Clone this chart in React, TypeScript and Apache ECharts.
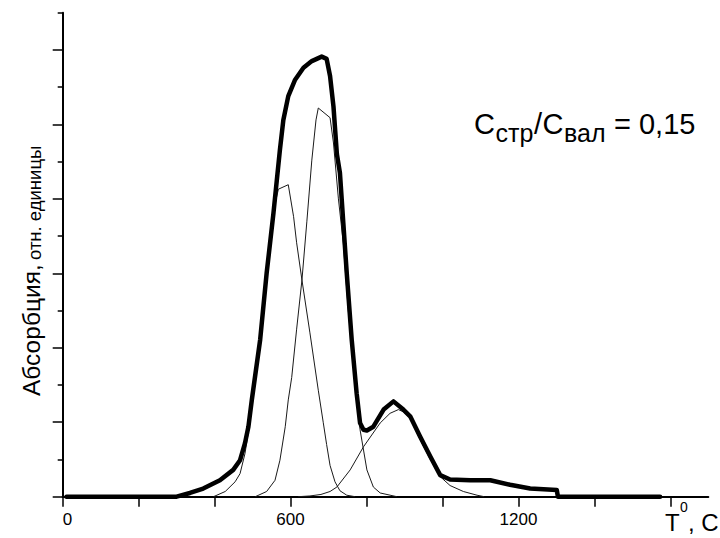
import React, { useEffect, useRef } from "react";
import * as echarts from "echarts";

// Temperature (T, °C) vs absorption (relative units)
const totalCurve: number[][] = [
  [10, 0], [300, 0], [335, 0.05], [370, 0.11], [414, 0.22], [449, 0.36], [467, 0.49],
  [480, 0.72], [489, 0.94], [498, 1.3], [520, 2.11], [537, 3.0], [555, 3.81], [572, 4.66],
  [581, 5.06], [594, 5.38], [612, 5.6], [634, 5.76], [656, 5.85], [682, 5.91], [695, 5.88],
  [704, 5.65], [713, 5.24], [722, 4.6], [730, 4.35], [739, 3.67], [748, 3.0], [761, 2.11],
  [774, 1.39], [783, 0.99], [792, 0.9], [801, 0.89], [818, 0.94], [845, 1.17], [871, 1.28],
  [897, 1.17], [915, 1.08], [941, 0.81], [968, 0.54], [994, 0.29], [1020, 0.23], [1073, 0.22],
  [1126, 0.22], [1178, 0.16], [1231, 0.11], [1301, 0.09], [1304, 0], [1573, 0],
];

const peak1: number[][] = [
  [397, 0], [428, 0.07], [454, 0.2], [467, 0.31], [480, 0.58], [491, 0.94], [498, 1.3],
  [520, 2.11], [537, 3.0], [555, 3.78], [562, 4.0], [568, 4.13], [594, 4.19], [608, 3.76],
  [616, 3.41], [630, 2.91], [651, 2.2], [673, 1.43], [686, 1.0], [695, 0.7], [704, 0.42],
  [717, 0.2], [730, 0.08], [748, 0.02], [770, 0],
];

const peak2: number[][] = [
  [507, 0], [537, 0.07], [559, 0.22], [572, 0.49], [586, 0.94], [594, 1.3], [603, 1.6],
  [616, 2.25], [630, 2.91], [643, 3.7], [656, 4.52], [667, 5.06], [673, 5.22], [704, 5.09],
  [713, 4.75], [726, 4.0], [739, 3.4], [752, 2.5], [770, 1.5], [783, 0.9], [801, 0.36],
  [818, 0.13], [836, 0.05], [880, 0],
];

const peak3: number[][] = [
  [620, 0], [651, 0.01], [680, 0.03], [704, 0.07], [722, 0.13], [757, 0.36], [792, 0.67],
  [836, 0.99], [862, 1.12], [884, 1.17], [897, 1.14], [915, 1.05], [941, 0.77], [968, 0.5],
  [994, 0.27], [1020, 0.15], [1055, 0.07], [1091, 0.02], [1110, 0],
];

const xTicks = [0, 200, 400, 600, 800, 1000, 1200, 1400, 1600];
const xLabels = [0, 600, 1200];
const yMajorTicks = [0, 1, 2, 3, 4, 5, 6];
const yMinorTicks = [0.5, 1.5, 2.5, 3.5, 4.5, 5.5, 6.5];

const FONT = "Arial, 'Liberation Sans', sans-serif";

function txt(text: string, x: number, y: number, size: number, extra: any = {}) {
  return {
    type: "text",
    x,
    y,
    ...extra,
    style: {
      text,
      fontSize: size,
      fontFamily: FONT,
      fill: "#000",
      align: "left",
      textAlign: "left",
      verticalAlign: "middle",
      textVerticalAlign: "middle",
    },
  };
}

export default function App() {
  const ref = useRef<HTMLDivElement>(null);
  useEffect(() => {
    if (!ref.current) return;
    const chart = echarts.init(ref.current, undefined, { renderer: "svg" });
    const thin = (data: number[][]) => ({
      type: "line",
      data,
      showSymbol: false,
      symbol: "none",
      xAxisIndex: 0,
      yAxisIndex: 0,
      lineStyle: { color: "#1a1a1a", width: 1 },
      z: 2,
    });
    chart.setOption({
      animation: false,
      backgroundColor: "#fff",
      grid: { left: 62.7, right: 11.7, top: 12.7, bottom: 41.3 },
      xAxis: {
        type: "value",
        min: 0,
        max: 1700,
        axisLine: { show: true, lineStyle: { color: "#000", width: 2 } },
        axisTick: { show: true, customValues: xTicks, length: 10, lineStyle: { color: "#000", width: 1.5 } },
        axisLabel: {
          show: true,
          customValues: xLabels,
          formatter: (v: number) => String(v),
          color: "#000",
          fontSize: 17,
          fontFamily: FONT,
          margin: 14,
          alignMinLabel: "left",
        },
        splitLine: { show: false },
      },
      yAxis: [
        {
          type: "value",
          min: 0,
          max: 6.5,
          axisLine: { show: true, lineStyle: { color: "#000", width: 2 } },
          axisTick: { show: true, customValues: yMajorTicks, length: 10, lineStyle: { color: "#000", width: 1.5 } },
          axisLabel: { show: false },
          splitLine: { show: false },
        },
        {
          type: "value",
          min: 0,
          max: 6.5,
          position: "left",
          axisLine: { show: false },
          axisTick: { show: true, customValues: yMinorTicks, length: 5, lineStyle: { color: "#000", width: 1.5 } },
          axisLabel: { show: false },
          splitLine: { show: false },
        },
      ],
      series: [
        thin(peak1),
        thin(peak2),
        thin(peak3),
        {
          type: "line",
          data: totalCurve,
          showSymbol: false,
          symbol: "none",
          lineStyle: { color: "#000", width: 4.5, join: "round", cap: "round" },
          z: 3,
        },
      ],
      graphic: [
        txt("Абсорбция,", 31, 396, 24.5, { rotation: Math.PI / 2 }),
        txt("отн. единицы", 34, 260, 18.5, { rotation: Math.PI / 2 }),
        txt("C", 474, 124, 29),
        txt("стр", 495.5, 133, 25),
        txt("/", 534, 124, 29),
        txt("C", 542.5, 124, 29),
        txt("вал", 564, 133, 25),
        txt("= 0,15", 614, 124, 29),
        txt("T", 665, 522, 24),
        txt("0", 680, 507, 14),
        txt(", C", 688, 522, 24),
      ],
    });
    return () => chart.dispose();
  }, []);
  return (
    <div
      ref={ref}
      style={{ position: "absolute", left: 0, top: 0, width: 720, height: 538, background: "#fff" }}
    />
  );
}
